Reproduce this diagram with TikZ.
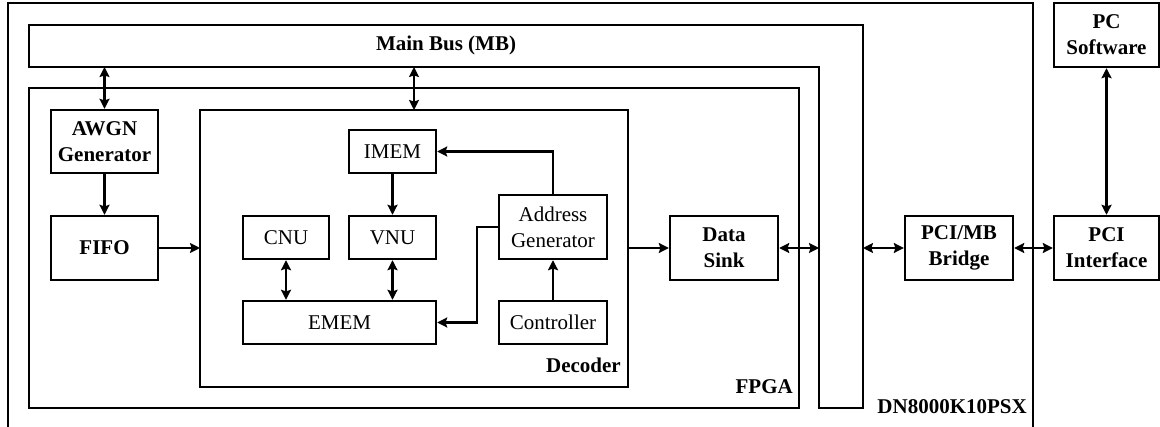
\documentclass[tikz,border=0pt]{standalone}
\usepackage{fontspec}
\setmainfont{Liberation Serif}
\usetikzlibrary{calc}
\usetikzlibrary{arrows.meta}

\begin{document}
\begin{tikzpicture}[x=.5pt, y=-.5pt, line width=1.2pt, >={Stealth[length=5pt,width=5pt,inset=.8pt]},
  blk/.style={draw, inner sep=0, align=center, font=\fontsize{10.5}{13}\selectfont},
  bblk/.style={blk, font=\fontsize{10.5}{13}\selectfont\bfseries},
  lbl/.style={inner sep=0, font=\fontsize{10.5}{13}\selectfont\bfseries}]
\useasboundingbox (0,0) rectangle (1160,427);
\draw (8,430)--(8,3)--(1033,3)--(1033,430);
\draw (29,25)--(863,25)--(863,408)--(819,408)--(819,67)--(29,67)--cycle;
\draw (29,88) rectangle (799,408);
\draw (200,110) rectangle (628,387);
\coordinate (busL) at (29,67);
\coordinate (busI) at (819,67);
\coordinate (busO) at (863,25);
\coordinate (decN) at (414,110);
\coordinate (decW) at (200,110);
\coordinate (decE) at (628,110);
\node[lbl] (mb) at (446,45) {Main Bus (MB)};
\node[lbl, anchor=east] (fpga) at (794,387) {FPGA};
\node[lbl, anchor=east] (dec) at (622,365) {Decoder};
\node[lbl, anchor=east] (dn) at (1028,407) {DN8000K10PSX};
\node[bblk, minimum width=53.5pt, minimum height=31.5pt] (awgn) at (104.5,141.5) {AWGN\\Generator};
\node[bblk, minimum width=53.5pt, minimum height=32pt] (fifo) at (104.5,248) {FIFO};
\node[blk, minimum width=43.5pt, minimum height=21.5pt] (imem) at (392.5,151.5) {IMEM};
\node[blk, minimum width=43.5pt, minimum height=21.5pt] (vnu) at (392.5,237.5) {VNU};
\node[blk, minimum width=43pt, minimum height=21.5pt] (cnu) at (286,237.5) {CNU};
\node[blk, minimum width=96.5pt, minimum height=21.5pt] (emem) at (339.5,322.5) {EMEM};
\node[blk, minimum width=54pt, minimum height=32pt] (addr) at (553,227) {Address\\Generator};
\node[blk, minimum width=54pt, minimum height=21.5pt] (ctrl) at (553,322.5) {Controller};
\node[bblk, minimum width=54pt, minimum height=32pt] (sink) at (724,248) {Data\\Sink};
\node[bblk, minimum width=54pt, minimum height=32pt] (bridge) at (959,248) {PCI/MB\\Bridge};
\node[bblk, minimum width=52.5pt, minimum height=32pt] (pci) at (1106.5,248) {PCI\\Interface};
\node[bblk, minimum width=52.5pt, minimum height=32pt] (pcsw) at (1106.5,35) {PC\\Software};
\draw[<->] (awgn.north |- busL) -- (awgn.north);
\draw[<->] (decN |- busL) -- (decN);
\draw[->] (awgn) -- (fifo);
\draw[->] (fifo.east) -- (fifo.east -| decW);
\draw[->] (imem) -- (vnu);
\draw[<->] (cnu.south) -- (cnu.south |- emem.north);
\draw[<->] (vnu.south) -- (vnu.south |- emem.north);
\draw[->] (addr.north) |- (imem.east);
\draw[->] (addr.west) -- ++(-21,0) |- (emem.east);
\draw[->] (ctrl) -- (addr);
\draw[->] (sink.west -| decE) -- (sink.west);
\draw[<->] (sink.east) -- (sink.east -| busI);
\draw[<->] (bridge.west -| busO) -- (bridge.west);
\draw[<->] (bridge) -- (pci);
\draw[<->] (pcsw) -- (pci);
\end{tikzpicture}
\end{document}
